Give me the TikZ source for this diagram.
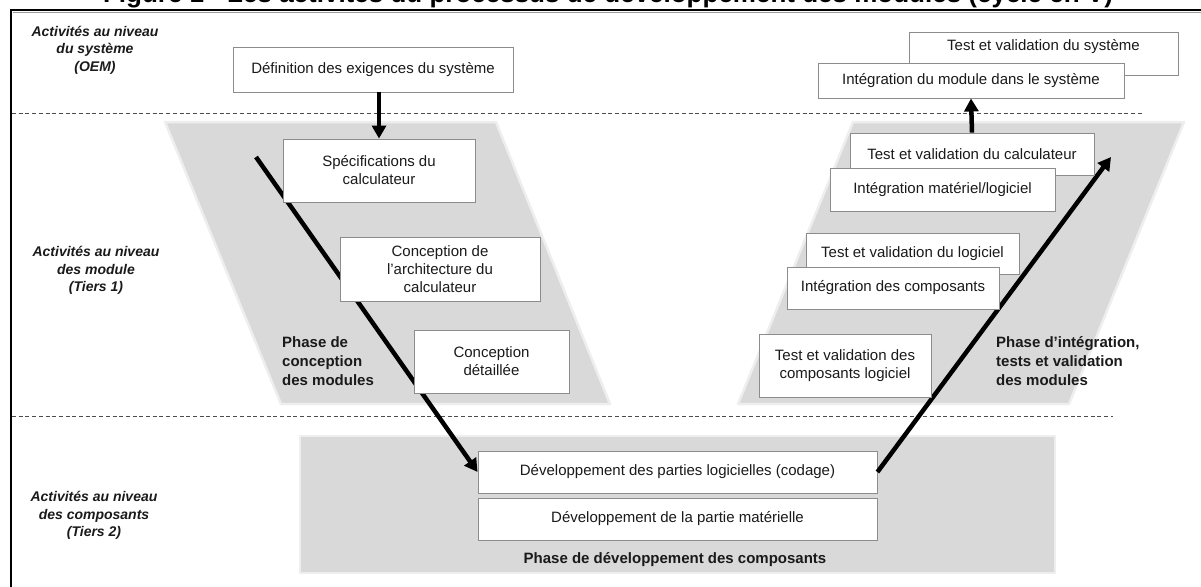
\documentclass[tikz,border=0pt]{standalone}
\usepackage{fontspec}
\setmainfont{Liberation Sans}
\usetikzlibrary{arrows.meta}
\definecolor{phasegrey}{HTML}{D9D9D9}
\definecolor{boxline}{HTML}{8C8C8C}
\definecolor{inkgrey}{HTML}{1A1A1A}
\begin{document}
\begin{tikzpicture}[x=1pt,y=-1pt,
  box/.style={draw=boxline, line width=0.9pt, fill=white, inner sep=0pt,
    align=center, text=inkgrey, font=\fontsize{15}{18}\selectfont},
  plain/.style={inner sep=0pt, align=center, text=inkgrey,
    font=\fontsize{15}{18}\selectfont},
  levellabel/.style={inner sep=0pt, align=center, text=inkgrey,
    font=\fontsize{14}{17.5}\selectfont\bfseries\itshape},
  phaselabel/.style={inner sep=0pt, align=left, text=inkgrey,
    font=\fontsize{15}{19}\selectfont\bfseries},
  flow/.style={line width=4.5pt, draw=black, -{Triangle[length=13pt,width=14pt]}},
  sep/.style={draw=black!70, line width=0.8pt, dash pattern=on 4pt off 2.7pt},
  zone/.style={fill=phasegrey, draw=phasegrey!45, line width=2.5pt, line join=round}
]
\useasboundingbox (0,0) rectangle (1201,586);
\clip (0,0) rectangle (1201,586);

% title, partly above the page
\node[inner sep=0pt, anchor=base, font=\fontsize{26}{30}\selectfont\bfseries]
  (title) at (608,3) {Figure 1 - Les activités du processus de développement des modules (cycle en V)};

% outer frame
\draw[line width=2.2pt, black] (11,700) -- (11,10) -- (1250,10);
\draw[line width=0.8pt, black!40] (12.5,12.2) -- (1250,12.2);

% phase zones
\filldraw[zone] (165,122) -- (496,122) -- (610,404) -- (281,404) -- cycle;
\filldraw[zone] (853,122) -- (1184,122) -- (1069,404) -- (738,404) -- cycle;
\filldraw[zone] (300,436) rectangle (1055,573);

% level separators
\draw[sep] (12,113) -- (1143,113);
\draw[sep] (12,416) -- (1113,416);

% level labels
\node[levellabel] (lvlsys) at (95,50) {Activités au niveau\\du système\\(OEM)};
\node[levellabel] (lvlmod) at (96,270.5) {Activités au niveau\\des module\\(Tiers 1)};
\node[levellabel] (lvlcomp) at (94,515.5) {Activités au niveau\\des composants\\(Tiers 2)};

% anchors of the V branches
\coordinate (vstart) at (256,157);
\coordinate (vend) at (1111,157);

% component level boxes
\node[box, minimum width=399pt, minimum height=42pt] (codage) at (677.5,472)
  {Développement des parties logicielles (codage)};
\node[box, minimum width=399pt, minimum height=42pt] (materiel) at (677.5,519)
  {Développement de la partie matérielle};

% V flows
\draw[flow] (vstart) -- (codage.west);
\draw[flow] (codage.east) -- (vend);

% system level
\node[box, minimum width=280pt, minimum height=45pt] (def) at (373,69.5)
  {Définition des exigences du système};
\node[box, minimum width=269pt, minimum height=43pt] (tvsys) at (1043.5,53.5) {};
\node[plain] (tvsystxt) at (1043.5,47) {Test et validation du système};
\node[box, minimum width=306pt, minimum height=35pt] (intmod) at (971,80.5)
  {Intégration du module dans le système};

% design branch
\node[box, minimum width=192pt, minimum height=63pt] (spec) at (379,170.5)
  {Spécifications du\\calculateur};
\node[box, minimum width=200pt, minimum height=64pt] (archi) at (440,269)
  {Conception de\\l’architecture du\\calculateur};
\node[box, minimum width=155pt, minimum height=63pt] (detail) at (491.5,361.5)
  {Conception\\détaillée};
\node[phaselabel, anchor=west] (phconc) at (282,361)
  {Phase de\\conception\\des modules};

% integration branch
\node[box, minimum width=244pt, minimum height=42pt] (tvcalc) at (972,154)
  {Test et validation du calculateur};
\node[box, minimum width=225pt, minimum height=43pt] (intml) at (942.5,189.5)
  {Intégration matériel/logiciel};
\node[box, minimum width=213pt, minimum height=41pt] (tvlog) at (912.5,253.5)
  {Test et validation du logiciel};
\node[box, minimum width=212pt, minimum height=42pt] (intcomp) at (893,288)
  {Intégration des composants};
\node[box, minimum width=172pt, minimum height=63pt] (tvcomp) at (845,365.5)
  {Test et validation des\\composants logiciel};
\node[phaselabel, anchor=west] (phint) at (996,361)
  {Phase d’intégration,\\tests et validation\\des modules};

% component phase caption
\node[phaselabel] (phdev) at (675,560)
  {Phase de développement des composants};

% vertical flows between levels
\draw[flow] (spec.north |- def.south) -- (spec.north);
\draw[flow] (tvcalc.north) -- (intmod.south);
\end{tikzpicture}
\end{document}
